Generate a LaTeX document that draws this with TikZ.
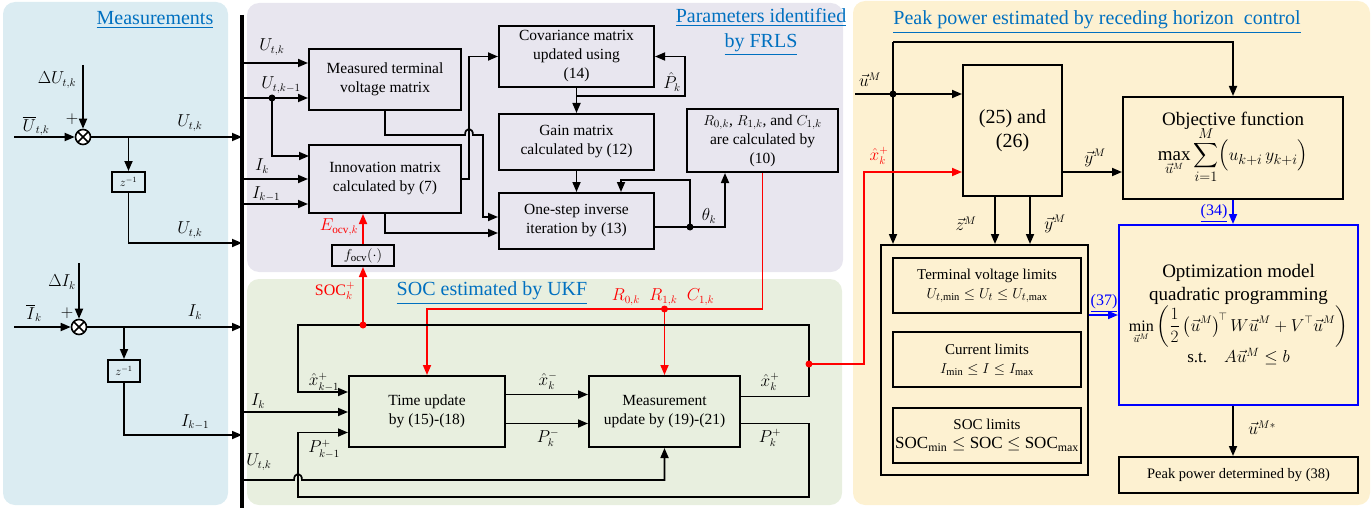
\documentclass[tikz,border=0pt]{standalone}
\usepackage{amsmath}
\usepackage{fontspec}
\setmainfont{Liberation Serif}
\usetikzlibrary{arrows.meta,calc}
\definecolor{measbg}{RGB}{219,236,242}
\definecolor{frlsbg}{RGB}{232,230,239}
\definecolor{ukfbg}{RGB}{232,239,223}
\definecolor{rhcbg}{RGB}{253,241,209}
\definecolor{linkblue}{RGB}{0,112,192}
\definecolor{optblue}{RGB}{0,0,255}
\tikzset{
  blk/.style={draw, line width=2pt, align=center, inner sep=2pt},
  sumnode/.style={circle, draw, fill=white, line width=1.6pt, minimum size=15pt, inner sep=0pt,
    path picture={\draw[line width=1.6pt] (path picture bounding box.north west) -- (path picture bounding box.south east)
      (path picture bounding box.north east) -- (path picture bounding box.south west);}},
  title/.style={text=linkblue, font=\fontsize{20}{25}\selectfont, align=center},
  lbl/.style={inner sep=1pt, font=\fontsize{16}{19}\selectfont},
}
\begin{document}
\begin{tikzpicture}[x=1pt,y=-1pt,line width=1.7pt,>={Triangle[length=10pt,width=8pt]},font=\fontsize{15.5}{19}\selectfont]
    \useasboundingbox (0,0) rectangle (1372,508);
    %panels
    \fill[measbg,rounded corners=12pt] (3,2) rectangle (228,505);
    \fill[frlsbg,rounded corners=12pt] (247,3) rectangle (843,272);
    \fill[ukfbg,rounded corners=12pt] (247,279) rectangle (842,505);
    \fill[rhcbg,rounded corners=12pt] (853,1) rectangle (1370,505);
    \node[title] (tmeas) at (155,20) {\underline{Measurements}};
    \node[title] (tfrls) at (761,32) {\underline{Parameters identified}\\\underline{by FRLS}};
    \node[title] (tukf) at (492,293) {\underline{SOC estimated by UKF}};
    \node[title] (trhc) at (1097,22) {\underline{Peak power estimated by receding horizon\ \ control}};
    %bus
    \coordinate (bustop) at (242,15);
    \coordinate (busbot) at (242,508);
    \draw[line width=4pt] (bustop) -- (busbot);

    %measurements
    \node[sumnode] (sumU) at (83,137) {};
    \node[sumnode] (sumI) at (79,327) {};
    \node[blk,minimum width=33pt,minimum height=20pt,inner sep=0pt,font=\fontsize{12}{14}\selectfont] (zU) at (128.5,182) {$z^{-1}$};
    \node[blk,minimum width=32pt,minimum height=22pt,inner sep=0pt,font=\fontsize{12}{14}\selectfont] (zI) at (124,371) {$z^{-1}$};
    \coordinate (dU) at (83,65);
    \coordinate (Ubar) at (14,137);
    \coordinate (Ud) at (242,243);
    \draw[->] (dU) -- (sumU);
    \draw[->] (Ubar) -- (sumU);
    \draw[->] (sumU) -- (sumU -| bustop);
    \draw[->] (sumU -| zU) -- (zU);
    \draw[->] (zU) |- (Ud);
    \coordinate (dI) at (79,263);
    \coordinate (Ibar) at (14,327);
    \coordinate (Id) at (242,435);
    \draw[->] (dI) -- (sumI);
    \draw[->] (Ibar) -- (sumI);
    \draw[->] (sumI) -- (sumI -| bustop);
    \draw[->] (sumI -| zI) -- (zI);
    \draw[->] (zI) |- (Id);
    \node[lbl] (ldU) at (57,80) {$\Delta U_{t,k}$};
    \node[lbl] (lpU) at (72,119) {$+$};
    \node[lbl] (lbU) at (36,126) {$\overline{U}_{t,k}$};
    \node[lbl] (lU1) at (190,123) {$U_{t,k}$};
    \node[lbl] (lU2) at (190,230) {$U_{t,k}$};
    \node[lbl] (ldI) at (62,282) {$\Delta I_{k}$};
    \node[lbl] (lpI) at (67,313) {$+$};
    \node[lbl] (lbI) at (34,313) {$\overline{I}_{k}$};
    \node[lbl] (lI1) at (195,312) {$I_{k}$};
    \node[lbl] (lI2) at (195,422) {$I_{k-1}$};

    %FRLS
    \node[blk,minimum width=152pt,minimum height=61pt] (mtv) at (385,79.5) {Measured terminal\\voltage matrix};
    \node[blk,minimum width=152pt,minimum height=68pt] (innov) at (385,179) {Innovation matrix\\calculated by (7)};
    \node[blk,minimum width=155pt,minimum height=61pt] (cov) at (576.5,56.5) {Covariance matrix\\updated using\\(14)};
    \node[blk,minimum width=155pt,minimum height=56pt] (gain) at (576.5,142) {Gain matrix\\calculated by (12)};
    \node[blk,minimum width=155pt,minimum height=56pt] (onestep) at (576.5,221) {One-step inverse\\iteration by (13)};
    \node[blk,minimum width=151pt,minimum height=63pt] (params) at (762.5,140.5) {$R_{0,k}$, $R_{1,k}$, and $C_{1,k}$\\are calculated by\\(10)};
    \node[blk,minimum width=62pt,minimum height=21pt,inner sep=0pt] (focv) at (363,255.5) {$f_{\mathrm{ocv}}(\cdot)$};
    \coordinate (Uk) at (242,63);
    \coordinate (Uk1) at (242,98);
    \coordinate (dotU) at (272,98);
    \coordinate (Uinn) at (309,156);
    \coordinate (Ik) at (242,179);
    \coordinate (Ik1) at (242,204);
    \draw[->] (Uk) -- (Uk -| mtv.west);
    \draw[->] (Uk1) -- (Uk1 -| mtv.west);
    \fill (dotU) circle (3.5pt);
    \draw[->] (dotU) |- (Uinn);
    \draw[->] (Ik) -- (Ik -| innov.west);
    \draw[->] (Ik1) -- (Ik1 -| innov.west);
    \draw[->,red] (focv) -- (focv |- innov.south);
    \coordinate (ic) at (469,179);
    \draw[->] (innov.east) -- (ic) |- (cov.west);
    \coordinate (hopA) at (465,135);
    \coordinate (hopB) at (473,135);
    \coordinate (mo) at (483,217);
    \draw[->] (mtv.south) |- (hopA) .. controls (465,127) and (473,127) .. (hopB) -| (mo) -- (mo -| onestep.west);
    \coordinate (io) at (498,233);
    \draw[->] (innov.south) |- (io);
    \draw[->] (cov) -- (gain);
    \coordinate (phat) at (576.5,96);
    \coordinate (phR) at (685,56.5);
    \draw[->] (phat) -| (phR) -- (cov.east);
    \draw[->] (gain) -- (onestep);
    \coordinate (osout) at (654,227);
    \coordinate (thdot) at (690,227);
    \coordinate (thx) at (725,227);
    \coordinate (fbL) at (621,180);
    \draw[->] (osout) -- (thx) -- (thx |- params.south);
    \fill (thdot) circle (3.5pt);
    \draw[->] (thdot) |- (fbL) -- (fbL |- onestep.north);
    \node[lbl] (lUk) at (272,47) {$U_{t,k}$};
    \node[lbl] (lUk1) at (281,85) {$U_{t,k-1}$};
    \node[lbl] (lIk) at (262,166) {$I_{k}$};
    \node[lbl] (lIk1) at (266,194) {$I_{k-1}$};
    \node[lbl,text=red] (lE) at (339,227) {$E_{\mathrm{ocv},k}$};
    \node[lbl] (lP) at (672,82) {$\hat{P}_{k}$};
    \node[lbl] (lth) at (709,216) {$\theta_{k}$};

    %UKF
    \node[blk,minimum width=156pt,minimum height=71pt] (time) at (427,411.5) {Time update\\by (15)-(18)};
    \node[blk,minimum width=151pt,minimum height=71pt] (meas) at (664.5,411.5) {Measurement\\update by (19)-(21)};
    \coordinate (rtl) at (427,309);
    \coordinate (rdot) at (664.5,309);
    \draw[->,red] (params.south) |- (rtl) -- (time.north);
    \fill[red] (rdot) circle (3.5pt);
    \draw[->,red] (rdot) -- (meas.north);
    \draw[->] ([yshift=17pt]time.east) -- ([yshift=17pt]meas.west);
    \draw[->] ([yshift=-12pt]time.east) -- ([yshift=-12pt]meas.west);
    \coordinate (lpTR) at (809,325);
    \coordinate (lpL) at (298,392);
    \draw[->] ([yshift=15pt]meas.east) -| (lpTR) -| (lpL) -- (lpL -| time.west);
    \coordinate (ppR) at (809,497);
    \coordinate (ppL) at (298,432.5);
    \draw[->] ([yshift=-12pt]meas.east) -| (ppR) -| (ppL) -- (ppL -| time.west);
    \coordinate (socdot) at (363,325);
    \fill[red] (socdot) circle (3.5pt);
    \draw[->,red] (socdot) -- (focv.south);
    \coordinate (Ikt) at (242,412);
    \draw[->] (Ikt) -- (Ikt -| time.west);
    \coordinate (Ut) at (242,480);
    \coordinate (hopC) at (294,480);
    \coordinate (hopD) at (302,480);
    \draw[->] (Ut) -- (hopC) .. controls (294,472) and (302,472) .. (hopD) -| (meas.south);
    \node[lbl,text=red] (lsoc) at (335,291) {SOC$_{k}^{+}$};
    \node[lbl,text=red] (lR) at (663,297) {$R_{0,k}\;\;R_{1,k}\;\;C_{1,k}$};
    \node[lbl] (lxk1) at (324,382) {$\hat{x}_{k-1}^{+}$};
    \node[lbl] (lIt) at (258,401) {$I_{k}$};
    \node[lbl] (lPk1) at (324,449) {$P_{k-1}^{+}$};
    \node[lbl] (lUt) at (259,462) {$U_{t,k}$};
    \node[lbl] (lxm) at (548,381) {$\hat{x}_{k}^{-}$};
    \node[lbl] (lPm) at (548,438) {$P_{k}^{-}$};
    \node[lbl] (lxp) at (770,382) {$\hat{x}_{k}^{+}$};
    \node[lbl] (lPp) at (770,438) {$P_{k}^{+}$};

    %receding horizon control
    \node[blk,minimum width=99pt,minimum height=131pt,font=\fontsize{20}{24}\selectfont] (eqs) at (1012.5,130.5) {(25) and\\(26)};
    \node[blk,minimum width=220pt,minimum height=102pt,font=\fontsize{19}{22}\selectfont] (obj) at (1233,148)
      {Objective function\\[-4pt]$\displaystyle\max_{\vec{u}^{M}}\sum_{i=1}^{M}\Bigl(u_{k+i}\,y_{k+i}\Bigr)$};
    \node[draw,line width=2pt,minimum width=207pt,minimum height=230pt] (limits) at (984.5,360) {};
    \node[blk,minimum width=188pt,minimum height=55pt,font=\fontsize{15}{19}\selectfont] (lim1) at (987,285.5)
      {Terminal voltage limits\\$U_{t,\min}\le U_{t}\le U_{t,\max}$};
    \node[blk,minimum width=188pt,minimum height=55pt,font=\fontsize{15}{19}\selectfont] (lim2) at (987,359.5)
      {Current limits\\$I_{\min}\le I\le I_{\max}$};
    \node[blk,minimum width=188pt,minimum height=55pt,font=\fontsize{15}{19}\selectfont] (lim3) at (987,435.5)
      {SOC limits\\{\fontsize{17}{19}\selectfont SOC$_{\min}\le$ SOC $\le$ SOC$_{\max}$}};
    \node[blk,draw=optblue,minimum width=239pt,minimum height=180pt,font=\fontsize{19}{23}\selectfont] (opt) at (1238.5,315)
      {Optimization model\\quadratic programming\\[0pt]
       {\fontsize{16}{20}\selectfont$\displaystyle\min_{\vec{u}^{M}}\left(\frac{1}{2}\left(\vec{u}^{M}\right)^{\!\top}W\vec{u}^{M}+V^{\top}\vec{u}^{M}\right)$}\\[0pt]
       {\fontsize{17}{20}\selectfont s.t.\quad$A\vec{u}^{M}\le b$}};
    \node[blk,minimum width=239pt,minimum height=36pt,font=\fontsize{14.5}{18}\selectfont] (peak) at (1238.5,475) {Peak power determined by (38)};
    \coordinate (uin) at (855,94);
    \coordinate (udot) at (893,94);
    \coordinate (utop) at (893,42);
    \draw[->] (uin) -- (uin -| eqs.west);
    \fill (udot) circle (3.5pt);
    \draw[->] (utop) -| (obj.north);
    \draw[->] (utop) -- (utop |- limits.north);
    \coordinate (xdot) at (809,364);
    \coordinate (xr) at (864,172);
    \fill[red] (xdot) circle (3.5pt);
    \draw[->,red] (xdot) -| (xr) -- (xr -| eqs.west);
    \coordinate (yo) at (1062,172);
    \draw[->] (yo) -- (yo -| obj.west);
    \coordinate (zx) at (995,196);
    \coordinate (yx) at (1030,196);
    \draw[->] (zx) -- (zx |- limits.north);
    \draw[->] (yx) -- (yx |- limits.north);
    \draw[->,optblue] (obj.south) -- (obj.south |- opt.north);
    \draw[->,optblue] ([yshift=45pt]limits.east) -- (opt.west);
    \draw[->] (opt.south -| obj.south) -- (peak.north -| obj.south);
    \node[lbl] (lu) at (870,80) {$\vec{u}^{M}$};
    \node[lbl,text=red] (lxr) at (879,156) {$\hat{x}_{k}^{+}$};
    \node[lbl] (ly1) at (1095,158) {$\vec{y}^{M}$};
    \node[lbl] (lz) at (966,224) {$\vec{z}^{M}$};
    \node[lbl] (ly2) at (1055,224) {$\vec{y}^{M}$};
    \node[lbl,text=optblue] (l34) at (1214,213) {\underline{(34)}};
    \node[lbl,text=optblue] (l37) at (1104,303) {\underline{(37)}};
    \node[lbl] (lus) at (1262,428) {$\vec{u}^{M*}$};
\end{tikzpicture}
\end{document}
